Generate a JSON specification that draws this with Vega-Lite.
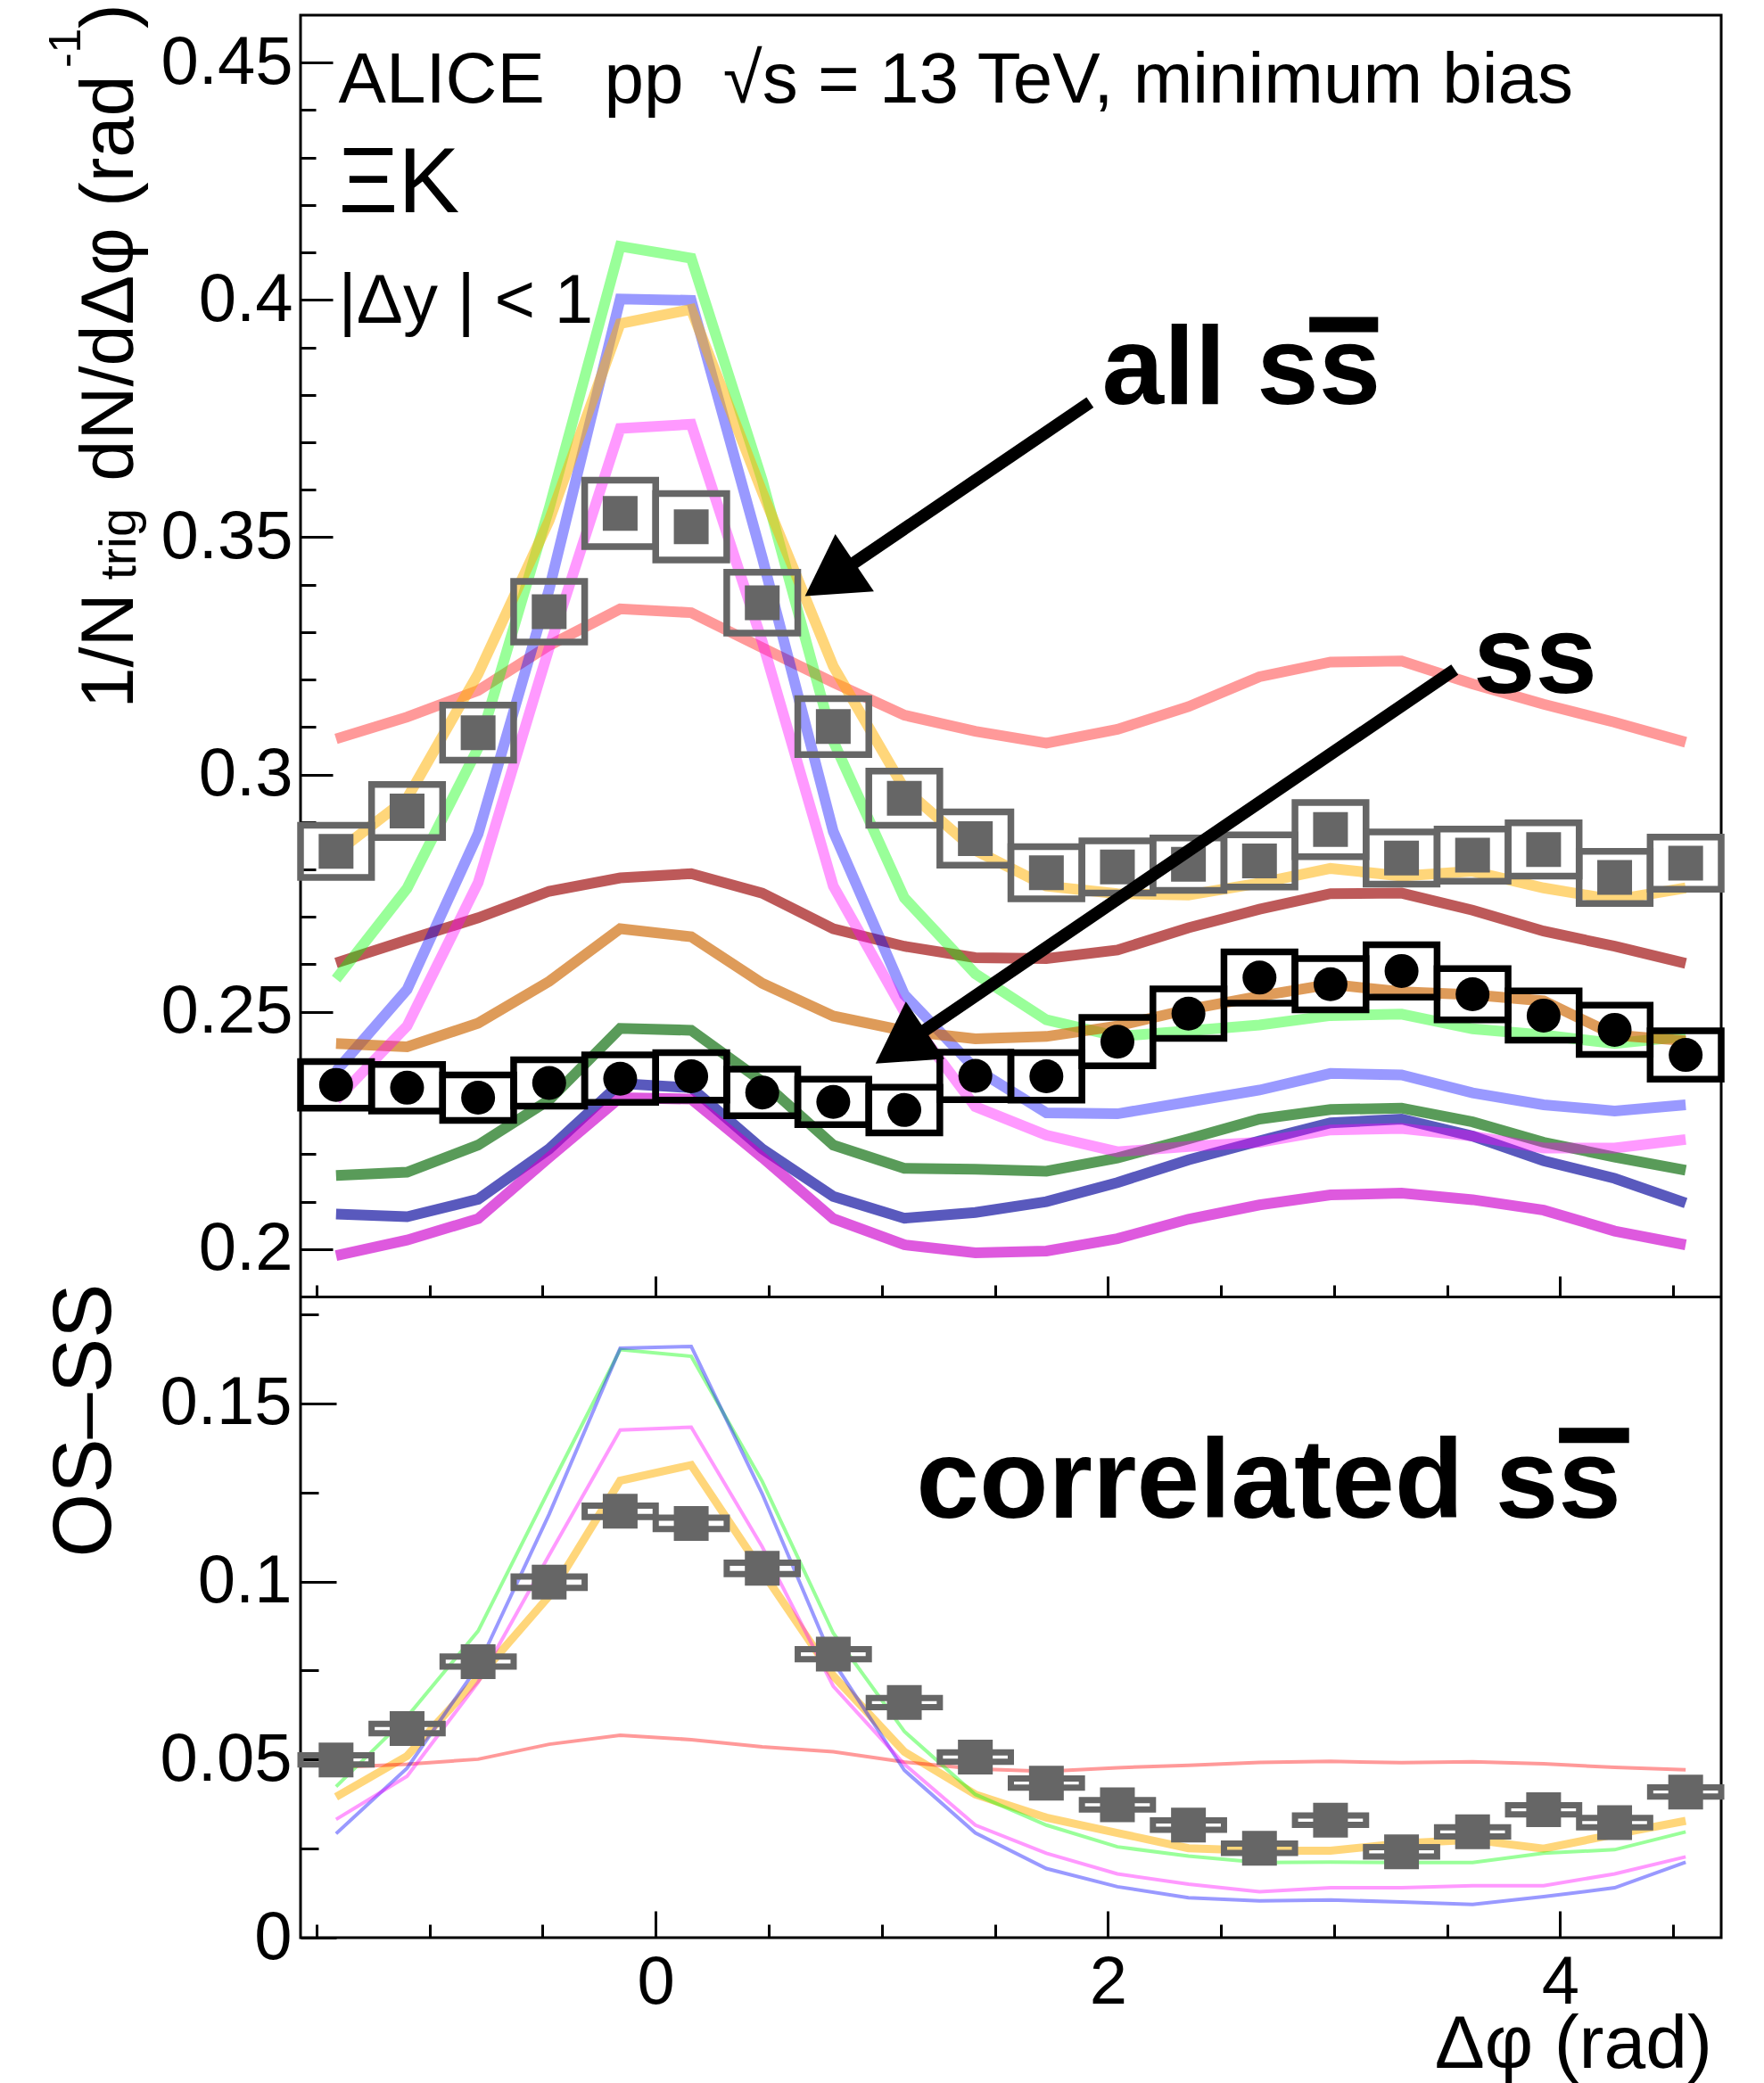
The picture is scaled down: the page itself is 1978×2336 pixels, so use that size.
{
  "$schema": "https://vega.github.io/schema/vega-lite/v6.json",
  "autosize": {"type": "none"},
  "width": 1593,
  "height": 2156,
  "padding": {"left": 337, "top": 17, "right": 48, "bottom": 163},
  "background": "white",
  "config": {
    "font": "Liberation Sans",
    "view": {"stroke": "black", "strokeWidth": 3},
    "axis": {"tickColor": "black", "tickWidth": 3, "domain": false, "grid": false, "labelFont": "Liberation Sans", "labelFontSize": 76, "labelColor": "black", "labelFlush": false, "labelOverlap": false}
  },
  "datasets": {
    "top": [
      {"x": -1.4137, "lo": -1.5708, "hi": -1.2566, "all": 0.2838, "allLo": 0.2783, "allHi": 0.2893, "ss": 0.2346, "ssLo": 0.2297, "ssHi": 0.2395, "r_os": 0.3075, "r_ss": 0.2603, "g_os": 0.2569, "g_ss": 0.2155, "b_os": 0.2375, "b_ss": 0.2074, "o_os": 0.2835, "o_ss": 0.2433, "m_os": 0.2314, "m_ss": 0.1986},
      {"x": -1.0996, "lo": -1.2566, "hi": -0.9425, "all": 0.2923, "allLo": 0.2867, "allHi": 0.2979, "ss": 0.2340, "ssLo": 0.2291, "ssHi": 0.2389, "r_os": 0.3121, "r_ss": 0.2651, "g_os": 0.2760, "g_ss": 0.2162, "b_os": 0.2547, "b_ss": 0.2068, "o_os": 0.2950, "o_ss": 0.2426, "m_os": 0.2470, "m_ss": 0.2019},
      {"x": -0.7854, "lo": -0.9425, "hi": -0.6283, "all": 0.3088, "allLo": 0.3030, "allHi": 0.3146, "ss": 0.2319, "ssLo": 0.2271, "ssHi": 0.2367, "r_os": 0.3177, "r_ss": 0.2698, "g_os": 0.3056, "g_ss": 0.2219, "b_os": 0.2875, "b_ss": 0.2105, "o_os": 0.3212, "o_ss": 0.2476, "m_os": 0.2772, "m_ss": 0.2064},
      {"x": -0.4712, "lo": -0.6283, "hi": -0.3142, "all": 0.3343, "allLo": 0.3279, "allHi": 0.3407, "ss": 0.2350, "ssLo": 0.2301, "ssHi": 0.2399, "r_os": 0.3272, "r_ss": 0.2754, "g_os": 0.3561, "g_ss": 0.2314, "b_os": 0.3390, "b_ss": 0.2211, "o_os": 0.3535, "o_ss": 0.2564, "m_os": 0.3267, "m_ss": 0.2193},
      {"x": -0.1571, "lo": -0.3142, "hi": 0.0, "all": 0.3550, "allLo": 0.3480, "allHi": 0.3620, "ss": 0.2359, "ssLo": 0.2309, "ssHi": 0.2409, "r_os": 0.3349, "r_ss": 0.2782, "g_os": 0.4113, "g_ss": 0.2465, "b_os": 0.4002, "b_ss": 0.2349, "o_os": 0.3950, "o_ss": 0.2675, "m_os": 0.3729, "m_ss": 0.2319},
      {"x": 0.1571, "lo": 0.0, "hi": 0.3142, "all": 0.3522, "allLo": 0.3452, "allHi": 0.3592, "ss": 0.2364, "ssLo": 0.2314, "ssHi": 0.2414, "r_os": 0.3341, "r_ss": 0.2791, "g_os": 0.4088, "g_ss": 0.2461, "b_os": 0.3999, "b_ss": 0.2340, "o_os": 0.3980, "o_ss": 0.2658, "m_os": 0.3738, "m_ss": 0.2316},
      {"x": 0.4712, "lo": 0.3142, "hi": 0.6283, "all": 0.3362, "allLo": 0.3298, "allHi": 0.3426, "ss": 0.2330, "ssLo": 0.2281, "ssHi": 0.2379, "r_os": 0.3267, "r_ss": 0.2750, "g_os": 0.3620, "g_ss": 0.2353, "b_os": 0.3457, "b_ss": 0.2211, "o_os": 0.3595, "o_ss": 0.2560, "m_os": 0.3280, "m_ss": 0.2193},
      {"x": 0.7854, "lo": 0.6283, "hi": 0.9425, "all": 0.3101, "allLo": 0.3042, "allHi": 0.3160, "ss": 0.2310, "ssLo": 0.2262, "ssHi": 0.2358, "r_os": 0.3194, "r_ss": 0.2675, "g_os": 0.3070, "g_ss": 0.2219, "b_os": 0.2880, "b_ss": 0.2111, "o_os": 0.3228, "o_ss": 0.2491, "m_os": 0.2765, "m_ss": 0.2064},
      {"x": 1.0996, "lo": 0.9425, "hi": 1.2566, "all": 0.2950, "allLo": 0.2893, "allHi": 0.3007, "ss": 0.2293, "ssLo": 0.2245, "ssHi": 0.2341, "r_os": 0.3125, "r_ss": 0.2638, "g_os": 0.2740, "g_ss": 0.2170, "b_os": 0.2536, "b_ss": 0.2065, "o_os": 0.2970, "o_ss": 0.2460, "m_os": 0.2500, "m_ss": 0.2009},
      {"x": 1.4137, "lo": 1.2566, "hi": 1.5708, "all": 0.2865, "allLo": 0.2809, "allHi": 0.2921, "ss": 0.2365, "ssLo": 0.2315, "ssHi": 0.2415, "r_os": 0.3091, "r_ss": 0.2614, "g_os": 0.2580, "g_ss": 0.2168, "b_os": 0.2380, "b_ss": 0.2077, "o_os": 0.2840, "o_ss": 0.2443, "m_os": 0.2300, "m_ss": 0.1992},
      {"x": 1.7279, "lo": 1.5708, "hi": 1.8850, "all": 0.2793, "allLo": 0.2738, "allHi": 0.2848, "ss": 0.2364, "ssLo": 0.2314, "ssHi": 0.2414, "r_os": 0.3066, "r_ss": 0.2612, "g_os": 0.2483, "g_ss": 0.2164, "b_os": 0.2287, "b_ss": 0.2100, "o_os": 0.2765, "o_ss": 0.2448, "m_os": 0.2240, "m_ss": 0.1996},
      {"x": 2.0420, "lo": 1.8850, "hi": 2.1991, "all": 0.2805, "allLo": 0.2750, "allHi": 0.2860, "ss": 0.2437, "ssLo": 0.2386, "ssHi": 0.2488, "r_os": 0.3095, "r_ss": 0.2630, "g_os": 0.2448, "g_ss": 0.2192, "b_os": 0.2285, "b_ss": 0.2140, "o_os": 0.2749, "o_ss": 0.2470, "m_os": 0.2205, "m_ss": 0.2022},
      {"x": 2.3562, "lo": 2.1991, "hi": 2.5133, "all": 0.2811, "allLo": 0.2756, "allHi": 0.2866, "ss": 0.2496, "ssLo": 0.2444, "ssHi": 0.2548, "r_os": 0.3143, "r_ss": 0.2677, "g_os": 0.2460, "g_ss": 0.2232, "b_os": 0.2310, "b_ss": 0.2188, "o_os": 0.2746, "o_ss": 0.2505, "m_os": 0.2216, "m_ss": 0.2063},
      {"x": 2.6704, "lo": 2.5133, "hi": 2.8274, "all": 0.2818, "allLo": 0.2763, "allHi": 0.2873, "ss": 0.2572, "ssLo": 0.2518, "ssHi": 0.2626, "r_os": 0.3206, "r_ss": 0.2716, "g_os": 0.2472, "g_ss": 0.2274, "b_os": 0.2335, "b_ss": 0.2228, "o_os": 0.2771, "o_ss": 0.2533, "m_os": 0.2225, "m_ss": 0.2093},
      {"x": 2.9845, "lo": 2.8274, "hi": 3.1416, "all": 0.2884, "allLo": 0.2827, "allHi": 0.2941, "ss": 0.2558, "ssLo": 0.2504, "ssHi": 0.2612, "r_os": 0.3237, "r_ss": 0.2749, "g_os": 0.2492, "g_ss": 0.2294, "b_os": 0.2370, "b_ss": 0.2266, "o_os": 0.2802, "o_ss": 0.2558, "m_os": 0.2251, "m_ss": 0.2114},
      {"x": 3.2987, "lo": 3.1416, "hi": 3.4558, "all": 0.2824, "allLo": 0.2769, "allHi": 0.2879, "ss": 0.2586, "ssLo": 0.2531, "ssHi": 0.2641, "r_os": 0.3239, "r_ss": 0.2750, "g_os": 0.2495, "g_ss": 0.2297, "b_os": 0.2367, "b_ss": 0.2274, "o_os": 0.2786, "o_ss": 0.2542, "m_os": 0.2254, "m_ss": 0.2118},
      {"x": 3.6128, "lo": 3.4558, "hi": 3.7699, "all": 0.2830, "allLo": 0.2775, "allHi": 0.2885, "ss": 0.2537, "ssLo": 0.2483, "ssHi": 0.2591, "r_os": 0.3191, "r_ss": 0.2714, "g_os": 0.2464, "g_ss": 0.2268, "b_os": 0.2329, "b_ss": 0.2238, "o_os": 0.2796, "o_ss": 0.2536, "m_os": 0.2238, "m_ss": 0.2104},
      {"x": 3.9270, "lo": 3.7699, "hi": 4.0841, "all": 0.2842, "allLo": 0.2786, "allHi": 0.2898, "ss": 0.2492, "ssLo": 0.2440, "ssHi": 0.2544, "r_os": 0.3148, "r_ss": 0.2670, "g_os": 0.2451, "g_ss": 0.2225, "b_os": 0.2304, "b_ss": 0.2186, "o_os": 0.2761, "o_ss": 0.2523, "m_os": 0.2213, "m_ss": 0.2082},
      {"x": 4.2412, "lo": 4.0841, "hi": 4.3982, "all": 0.2783, "allLo": 0.2728, "allHi": 0.2838, "ss": 0.2462, "ssLo": 0.2410, "ssHi": 0.2514, "r_os": 0.3110, "r_ss": 0.2638, "g_os": 0.2433, "g_ss": 0.2194, "b_os": 0.2291, "b_ss": 0.2149, "o_os": 0.2736, "o_ss": 0.2451, "m_os": 0.2213, "m_ss": 0.2038},
      {"x": 4.5553, "lo": 4.3982, "hi": 4.7124, "all": 0.2813, "allLo": 0.2758, "allHi": 0.2868, "ss": 0.2409, "ssLo": 0.2358, "ssHi": 0.2460, "r_os": 0.3068, "r_ss": 0.2602, "g_os": 0.2448, "g_ss": 0.2166, "b_os": 0.2304, "b_ss": 0.2097, "o_os": 0.2761, "o_ss": 0.2439, "m_os": 0.2231, "m_ss": 0.2009}
    ],
    "bottom": [
      {"x": -1.4137, "lo": -1.5708, "hi": -1.2566, "d": 0.0499, "dLo": 0.0486, "dHi": 0.0512, "r": 0.0478, "g": 0.0424, "b": 0.0292, "o": 0.0395, "m": 0.0332},
      {"x": -1.0996, "lo": -1.2566, "hi": -0.9425, "d": 0.0587, "dLo": 0.0574, "dHi": 0.0600, "r": 0.0487, "g": 0.0620, "b": 0.0476, "o": 0.0510, "m": 0.0453},
      {"x": -0.7854, "lo": -0.9425, "hi": -0.6283, "d": 0.0775, "dLo": 0.0761, "dHi": 0.0789, "r": 0.0501, "g": 0.0861, "b": 0.0763, "o": 0.0729, "m": 0.0717},
      {"x": -0.4712, "lo": -0.6283, "hi": -0.3142, "d": 0.0998, "dLo": 0.0982, "dHi": 0.1014, "r": 0.0543, "g": 0.1258, "b": 0.1189, "o": 0.0959, "m": 0.1074},
      {"x": -0.1571, "lo": -0.3142, "hi": 0.0, "d": 0.1197, "dLo": 0.1181, "dHi": 0.1213, "r": 0.0568, "g": 0.1651, "b": 0.1655, "o": 0.1283, "m": 0.1425},
      {"x": 0.1571, "lo": 0.0, "hi": 0.3142, "d": 0.1163, "dLo": 0.1147, "dHi": 0.1179, "r": 0.0556, "g": 0.1632, "b": 0.1660, "o": 0.1327, "m": 0.1433},
      {"x": 0.4712, "lo": 0.3142, "hi": 0.6283, "d": 0.1037, "dLo": 0.1021, "dHi": 0.1053, "r": 0.0536, "g": 0.1281, "b": 0.1246, "o": 0.1028, "m": 0.1097},
      {"x": 0.7854, "lo": 0.6283, "hi": 0.9425, "d": 0.0796, "dLo": 0.0782, "dHi": 0.0810, "r": 0.0522, "g": 0.0855, "b": 0.0775, "o": 0.0735, "m": 0.0706},
      {"x": 1.0996, "lo": 0.9425, "hi": 1.2566, "d": 0.0660, "dLo": 0.0647, "dHi": 0.0673, "r": 0.0493, "g": 0.0579, "b": 0.0470, "o": 0.0522, "m": 0.0487},
      {"x": 1.4137, "lo": 1.2566, "hi": 1.5708, "d": 0.0507, "dLo": 0.0494, "dHi": 0.0520, "r": 0.0474, "g": 0.0402, "b": 0.0294, "o": 0.0402, "m": 0.0316},
      {"x": 1.7279, "lo": 1.5708, "hi": 1.8850, "d": 0.0434, "dLo": 0.0421, "dHi": 0.0447, "r": 0.0467, "g": 0.0316, "b": 0.0194, "o": 0.0337, "m": 0.0237},
      {"x": 2.0420, "lo": 1.8850, "hi": 2.1991, "d": 0.0373, "dLo": 0.0360, "dHi": 0.0386, "r": 0.0477, "g": 0.0255, "b": 0.0143, "o": 0.0294, "m": 0.0179},
      {"x": 2.3562, "lo": 2.1991, "hi": 2.5133, "d": 0.0316, "dLo": 0.0303, "dHi": 0.0329, "r": 0.0484, "g": 0.0229, "b": 0.0112, "o": 0.0251, "m": 0.0150},
      {"x": 2.6704, "lo": 2.5133, "hi": 2.8274, "d": 0.0251, "dLo": 0.0238, "dHi": 0.0264, "r": 0.0492, "g": 0.0211, "b": 0.0103, "o": 0.0244, "m": 0.0129},
      {"x": 2.9845, "lo": 2.8274, "hi": 3.1416, "d": 0.0330, "dLo": 0.0317, "dHi": 0.0343, "r": 0.0495, "g": 0.0212, "b": 0.0106, "o": 0.0244, "m": 0.0140},
      {"x": 3.2987, "lo": 3.1416, "hi": 3.4558, "d": 0.0241, "dLo": 0.0228, "dHi": 0.0254, "r": 0.0491, "g": 0.0211, "b": 0.0100, "o": 0.0265, "m": 0.0140},
      {"x": 3.6128, "lo": 3.4558, "hi": 3.7699, "d": 0.0297, "dLo": 0.0284, "dHi": 0.0310, "r": 0.0494, "g": 0.0211, "b": 0.0093, "o": 0.0275, "m": 0.0146},
      {"x": 3.9270, "lo": 3.7699, "hi": 4.0841, "d": 0.0359, "dLo": 0.0346, "dHi": 0.0372, "r": 0.0488, "g": 0.0237, "b": 0.0115, "o": 0.0250, "m": 0.0146},
      {"x": 4.2412, "lo": 4.0841, "hi": 4.3982, "d": 0.0323, "dLo": 0.0310, "dHi": 0.0336, "r": 0.0478, "g": 0.0247, "b": 0.0140, "o": 0.0290, "m": 0.0179},
      {"x": 4.5553, "lo": 4.3982, "hi": 4.7124, "d": 0.0409, "dLo": 0.0396, "dHi": 0.0422, "r": 0.0471, "g": 0.0297, "b": 0.0212, "o": 0.0328, "m": 0.0227}
    ]
  },
  "layer": [
    {
      "layer": [
        {
          "data": {"name": "top"},
          "transform": [{"fold": ["r_os", "r_ss", "g_os", "g_ss", "b_os", "b_ss", "o_os", "o_ss", "m_os", "m_ss"], "as": ["series", "v"]}],
          "mark": {"type": "line", "strokeWidth": 12, "strokeJoin": "miter"},
          "encoding": {
            "x": {"field": "x", "type": "quantitative", "scale": {"domain": [-1.5708, 4.7124], "nice": false, "zero": false},
                  "axis": {"orient": "bottom", "values": [0, 2, 4], "tickSize": -23, "labels": false, "domain": true, "domainColor": "black", "domainWidth": 3, "offset": -719, "title": null}},
            "y": {"field": "v", "type": "quantitative", "scale": {"domain": [0.19, 0.46], "range": [1437, 0], "nice": false, "zero": false},
                  "axis": {"orient": "left", "values": [0.2, 0.25, 0.3, 0.35, 0.4, 0.45], "tickSize": -36, "labelPadding": 45, "format": "~g", "title": null}},
            "color": {"field": "series", "type": "nominal", "legend": null,
                      "scale": {"domain": ["r_os", "r_ss", "g_os", "g_ss", "b_os", "b_ss", "o_os", "o_ss", "m_os", "m_ss"],
                                "range": ["rgba(255,0,0,0.4)", "rgba(153,0,0,0.65)", "rgba(0,255,0,0.4)", "rgba(0,102,0,0.65)", "rgba(0,0,255,0.4)", "rgba(0,0,153,0.65)", "rgba(255,176,0,0.52)", "rgba(204,102,0,0.65)", "rgba(255,0,255,0.4)", "rgba(204,0,204,0.65)"]}}
          }
        },
        {
          "data": {"name": "top"},
          "mark": {"type": "rect", "filled": false, "stroke": "#666666", "strokeWidth": 7.5},
          "encoding": {
            "x": {"field": "lo", "type": "quantitative", "scale": {"domain": [-1.5708, 4.7124], "nice": false, "zero": false},
                  "axis": {"orient": "bottom", "values": [-1.5, -1, -0.5, 0.5, 1, 1.5, 2.5, 3, 3.5, 4.5], "tickSize": -13, "labels": false, "offset": -719, "title": null}},
            "x2": {"field": "hi"},
            "y": {"field": "allLo", "type": "quantitative", "scale": {"domain": [0.19, 0.46], "range": [1437, 0], "nice": false, "zero": false},
                  "axis": {"orient": "left", "values": [0.21, 0.22, 0.23, 0.24, 0.26, 0.27, 0.28, 0.29, 0.31, 0.32, 0.33, 0.34, 0.36, 0.37, 0.38, 0.39, 0.41, 0.42, 0.43, 0.44], "tickSize": -17, "labels": false, "title": null}},
            "y2": {"field": "allHi"}
          }
        },
        {
          "data": {"name": "top"},
          "mark": {"type": "rect", "filled": false, "stroke": "black", "strokeWidth": 7.5},
          "encoding": {
            "x": {"field": "lo", "type": "quantitative", "axis": null},
            "x2": {"field": "hi"},
            "y": {"field": "ssLo", "type": "quantitative", "axis": null},
            "y2": {"field": "ssHi"}
          }
        },
        {
          "data": {"name": "top"},
          "mark": {"type": "point", "shape": "square", "filled": true, "color": "#666666", "opacity": 1, "size": 1521},
          "encoding": {
            "x": {"field": "x", "type": "quantitative", "axis": null},
            "y": {"field": "all", "type": "quantitative", "axis": null}
          }
        },
        {
          "data": {"name": "top"},
          "mark": {"type": "point", "shape": "circle", "filled": true, "color": "black", "opacity": 1, "size": 1444},
          "encoding": {
            "x": {"field": "x", "type": "quantitative", "axis": null},
            "y": {"field": "ss", "type": "quantitative", "axis": null}
          }
        },
        {
          "data": {"values": [{"x": -1.403, "v": 0.4416, "t": "ALICE\u00a0\u00a0\u00a0pp\u00a0\u00a0√s = 13 TeV, minimum bias"}]},
          "mark": {"type": "text", "align": "left", "baseline": "alphabetic", "fontSize": 80, "color": "black"},
          "encoding": {"x": {"field": "x", "type": "quantitative", "axis": null}, "y": {"field": "v", "type": "quantitative", "axis": null}, "text": {"field": "t"}}
        },
        {
          "data": {"values": [{"x": -1.403, "v": 0.4184, "t": "ΞK"}]},
          "mark": {"type": "text", "align": "left", "baseline": "alphabetic", "fontSize": 103, "color": "black"},
          "encoding": {"x": {"field": "x", "type": "quantitative", "axis": null}, "y": {"field": "v", "type": "quantitative", "axis": null}, "text": {"field": "t"}}
        },
        {
          "data": {"values": [{"x": -1.403, "v": 0.3951, "t": "|Δy | < 1"}]},
          "mark": {"type": "text", "align": "left", "baseline": "alphabetic", "fontSize": 78, "color": "black"},
          "encoding": {"x": {"field": "x", "type": "quantitative", "axis": null}, "y": {"field": "v", "type": "quantitative", "axis": null}, "text": {"field": "t"}}
        },
        {
          "data": {"values": [{"x": 1.973, "v": 0.378, "t": "all ss"}, {"x": 3.616, "v": 0.3172, "t": "ss"}]},
          "mark": {"type": "text", "align": "left", "baseline": "alphabetic", "fontSize": 125, "fontWeight": "bold", "color": "black"},
          "encoding": {"x": {"field": "x", "type": "quantitative", "axis": null}, "y": {"field": "v", "type": "quantitative", "axis": null}, "text": {"field": "t"}}
        },
        {
          "data": {"values": [{"x": 2.891, "x2": 3.195, "v": 0.3948}]},
          "mark": {"type": "rule", "strokeWidth": 17, "color": "black", "strokeCap": "butt"},
          "encoding": {"x": {"field": "x", "type": "quantitative", "axis": null}, "x2": {"field": "x2"}, "y": {"field": "v", "type": "quantitative", "axis": null}}
        },
        {
          "data": {"values": [{"x": 1.921, "v": 0.3784, "x2": 0.770, "v2": 0.3411}, {"x": 3.534, "v": 0.3221, "x2": 1.082, "v2": 0.2426}]},
          "mark": {"type": "rule", "strokeWidth": 14, "color": "black", "strokeCap": "butt"},
          "encoding": {"x": {"field": "x", "type": "quantitative", "axis": null}, "x2": {"field": "x2"}, "y": {"field": "v", "type": "quantitative", "axis": null}, "y2": {"field": "v2"}}
        },
        {
          "data": {"values": [{"x": 0.770, "v": 0.3411}, {"x": 1.082, "v": 0.2426}]},
          "mark": {"type": "point", "shape": "triangle-up", "filled": true, "color": "black", "opacity": 1, "size": 6000, "angle": 236},
          "encoding": {"x": {"field": "x", "type": "quantitative", "axis": null}, "y": {"field": "v", "type": "quantitative", "axis": null}}
        },
        {
          "data": {"values": [{"x": -2.314, "v": 0.3139, "t": "1/N"}, {"x": -2.314, "v": 0.3618, "t": "dN/dΔφ (rad"}, {"x": -2.314, "v": 0.4572, "t": ")"}]},
          "mark": {"type": "text", "align": "left", "baseline": "alphabetic", "angle": 270, "fontSize": 83, "color": "black"},
          "encoding": {"x": {"field": "x", "type": "quantitative", "axis": null}, "y": {"field": "v", "type": "quantitative", "axis": null}, "text": {"field": "t"}}
        },
        {
          "data": {"values": [{"x": -2.302, "v": 0.3410, "t": "trig"}]},
          "mark": {"type": "text", "align": "left", "baseline": "alphabetic", "angle": 270, "fontSize": 58, "color": "black"},
          "encoding": {"x": {"field": "x", "type": "quantitative", "axis": null}, "y": {"field": "v", "type": "quantitative", "axis": null}, "text": {"field": "t"}}
        },
        {
          "data": {"values": [{"x": -2.547, "v": 0.4489, "t": "-1"}]},
          "mark": {"type": "text", "align": "left", "baseline": "alphabetic", "angle": 270, "fontSize": 50, "color": "black"},
          "encoding": {"x": {"field": "x", "type": "quantitative", "axis": null}, "y": {"field": "v", "type": "quantitative", "axis": null}, "text": {"field": "t"}}
        }
      ],
      "resolve": {"axis": {"x": "independent", "y": "independent"}}
    },
    {
      "layer": [
        {
          "data": {"name": "bottom"},
          "mark": {"type": "line", "strokeWidth": 9, "color": "rgba(255,176,0,0.52)", "strokeJoin": "miter"},
          "encoding": {
            "x": {"field": "x", "type": "quantitative", "scale": {"domain": [-1.5708, 4.7124], "nice": false, "zero": false},
                  "axis": {"orient": "bottom", "values": [0, 2, 4], "tickSize": -30, "labelPadding": 43, "format": "~g", "title": null}},
            "y": {"field": "o", "type": "quantitative", "scale": {"domain": [0, 0.18], "range": [2156, 1437], "nice": false, "zero": false},
                  "axis": {"orient": "left", "values": [0, 0.05, 0.1, 0.15], "tickSize": -40, "labelPadding": 50, "format": "~g", "title": null}}
          }
        },
        {
          "data": {"name": "bottom"},
          "transform": [{"fold": ["r", "g", "b", "m"], "as": ["model", "v"]}],
          "mark": {"type": "line", "strokeWidth": 4, "strokeJoin": "miter"},
          "encoding": {
            "x": {"field": "x", "type": "quantitative", "axis": null},
            "y": {"field": "v", "type": "quantitative", "axis": null},
            "color": {"field": "model", "type": "nominal", "legend": null,
                      "scale": {"domain": ["r", "g", "b", "m"], "range": ["rgba(255,0,0,0.4)", "rgba(0,255,0,0.4)", "rgba(0,0,255,0.4)", "rgba(255,0,255,0.4)"]}}
          }
        },
        {
          "data": {"name": "bottom"},
          "mark": {"type": "rect", "filled": false, "stroke": "#666666", "strokeWidth": 7},
          "encoding": {
            "x": {"field": "lo", "type": "quantitative",
                  "axis": {"orient": "bottom", "values": [-1.5, -1, -0.5, 0.5, 1, 1.5, 2.5, 3, 3.5, 4.5], "tickSize": -15, "labels": false, "title": null}},
            "x2": {"field": "hi"},
            "y": {"field": "dLo", "type": "quantitative",
                  "axis": {"orient": "left", "values": [0.025, 0.075, 0.125, 0.175], "tickSize": -20, "labels": false, "title": null}},
            "y2": {"field": "dHi"}
          }
        },
        {
          "data": {"name": "bottom"},
          "mark": {"type": "point", "shape": "square", "filled": true, "color": "#666666", "opacity": 1, "size": 1521},
          "encoding": {
            "x": {"field": "x", "type": "quantitative", "axis": null},
            "y": {"field": "d", "type": "quantitative", "axis": null}
          }
        },
        {
          "data": {"values": [{"x": 1.152, "v": 0.1180, "t": "correlated ss"}]},
          "mark": {"type": "text", "align": "left", "baseline": "alphabetic", "fontSize": 127, "fontWeight": "bold", "color": "black"},
          "encoding": {"x": {"field": "x", "type": "quantitative", "axis": null}, "y": {"field": "v", "type": "quantitative", "axis": null}, "text": {"field": "t"}}
        },
        {
          "data": {"values": [{"x": 3.995, "x2": 4.305, "v": 0.1410}]},
          "mark": {"type": "rule", "strokeWidth": 17, "color": "black", "strokeCap": "butt"},
          "encoding": {"x": {"field": "x", "type": "quantitative", "axis": null}, "x2": {"field": "x2"}, "y": {"field": "v", "type": "quantitative", "axis": null}}
        },
        {
          "data": {"values": [{"x": -2.412, "v": 0.1068, "t": "OS–SS"}]},
          "mark": {"type": "text", "align": "left", "baseline": "alphabetic", "angle": 270, "fontSize": 92, "color": "black"},
          "encoding": {"x": {"field": "x", "type": "quantitative", "axis": null}, "y": {"field": "v", "type": "quantitative", "axis": null}, "text": {"field": "t"}}
        },
        {
          "data": {"values": [{"x": 4.673, "v": -0.0365, "t": "Δφ (rad)"}]},
          "mark": {"type": "text", "align": "right", "baseline": "alphabetic", "fontSize": 84, "color": "black"},
          "encoding": {"x": {"field": "x", "type": "quantitative", "axis": null}, "y": {"field": "v", "type": "quantitative", "axis": null}, "text": {"field": "t"}}
        }
      ],
      "resolve": {"axis": {"x": "independent", "y": "independent"}}
    }
  ],
  "resolve": {"scale": {"y": "independent", "color": "independent"}, "axis": {"x": "independent", "y": "independent"}}
}
